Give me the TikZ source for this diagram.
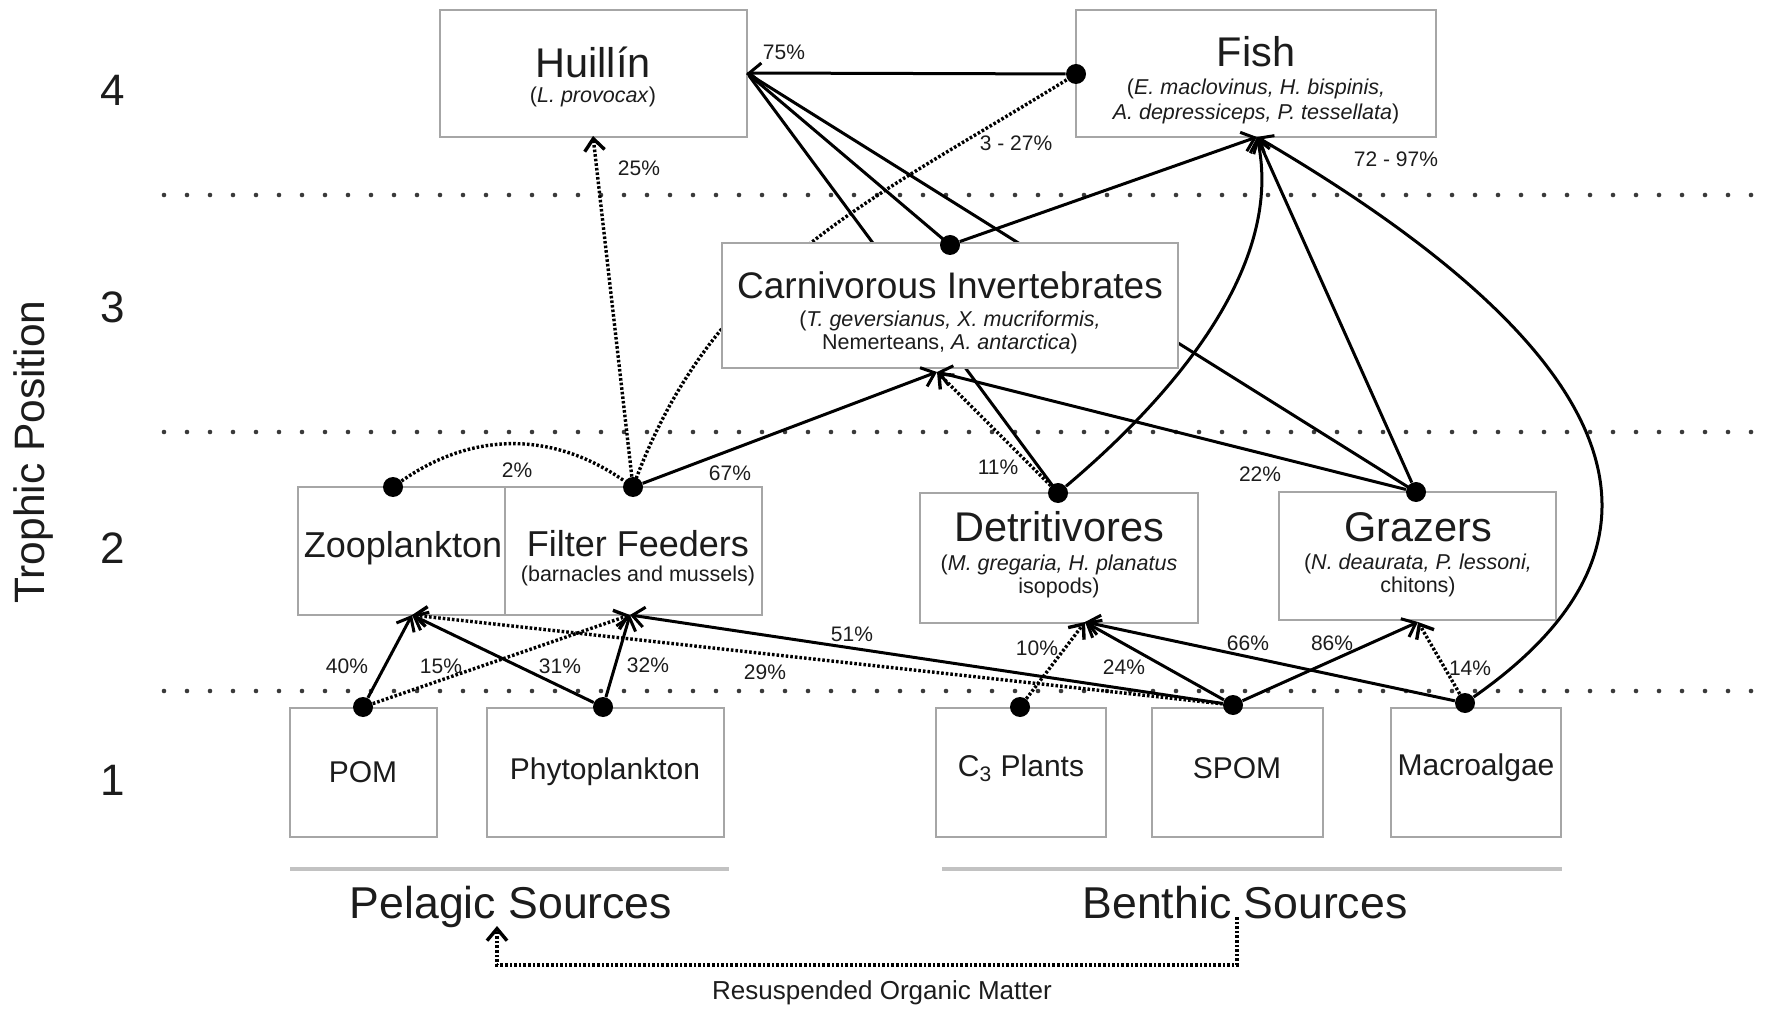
\documentclass[tikz,border=0pt]{standalone}
\usepackage{fontspec}
\setmainfont{Liberation Sans}
\usetikzlibrary{arrows.meta}
\definecolor{boxgray}{HTML}{A6A6A6}
\definecolor{ink}{HTML}{1C1C1C}
\definecolor{sepink}{HTML}{3A3A3A}
\definecolor{rulegray}{HTML}{C2C2C2}
\newcommand\fsz[2]{\fontsize{#1}{#2}\selectfont}
\pgfdeclarelayer{bg}
\pgfsetlayers{bg,main}
\tikzset{
  box/.style={draw=boxgray,line width=1pt,fill=white,inner sep=0pt,rectangle},
  blob/.style={circle,fill=black,inner sep=0pt,minimum size=10pt},
  sepline/.style={draw=sepink,line width=2.3pt,line cap=round,dash pattern=on 0pt off 11.5pt},
  feed/.style={draw=black,line width=1.5pt,-{Straight Barb[length=6pt,width=10pt]}},
  plainfeed/.style={draw=black,line width=1.5pt},
  dfeed/.style={feed,line width=1.7pt,dash pattern=on 1.3pt off 1.0pt},
  pct/.style={text=ink,inner sep=0pt,font=\fsz{10.5pt}{12pt}},
  ttl/.style={text=ink,inner sep=0pt,font=\fsz{20.75pt}{24pt}},
  midttl/.style={text=ink,inner sep=0pt,font=\fsz{18.5pt}{22pt}},
  subttl/.style={text=ink,inner sep=0pt,align=center,font=\fsz{10.75pt}{11.5pt}},
  src/.style={text=ink,inner sep=0pt,font=\fsz{15pt}{18pt}},
  axnum/.style={text=ink,inner sep=0pt,font=\fsz{22pt}{24pt}},
  bigsrc/.style={text=ink,inner sep=0pt,anchor=base,font=\fsz{22.3pt}{26pt}},
  rule/.style={draw=rulegray,line width=2pt}
}
\begin{document}
\begin{tikzpicture}[x=0.5pt,y=0.5pt]
\useasboundingbox (0,0) rectangle (1772,-1010);

% ---- boxes ----
\node[box,minimum width=153.5pt,minimum height=63.5pt] (huil) at (593.5,-73.5) {};
\node[box,minimum width=180pt,minimum height=63.5pt] (fish) at (1256,-73.5) {};
\node[box,minimum width=228pt,minimum height=62.5pt] (carn) at (950,-305.5) {};
\node[box,minimum width=103.5pt,minimum height=64pt] (zoo) at (401.5,-551) {};
\node[box,minimum width=128.5pt,minimum height=64pt] (ff) at (633.5,-551) {};
\node[box,minimum width=139pt,minimum height=65pt] (det) at (1059,-558) {};
\node[box,minimum width=138.5pt,minimum height=64pt] (graz) at (1417.5,-556) {};
\node[box,minimum width=73.5pt,minimum height=64.5pt] (pom) at (363.5,-772.5) {};
\node[box,minimum width=118.5pt,minimum height=64.5pt] (phyto) at (605.5,-772.5) {};
\node[box,minimum width=85pt,minimum height=64.5pt] (cthree) at (1021,-772.5) {};
\node[box,minimum width=85.5pt,minimum height=64.5pt] (spom) at (1237.5,-772.5) {};
\node[box,minimum width=85pt,minimum height=64.5pt] (macro) at (1476,-772.5) {};

% ---- arrow tip points ----
\coordinate (huilR) at (747,-73);
\coordinate (huilS) at (593,-136);
\coordinate (fishS) at (1257,-137);
\coordinate (carnS) at (937,-372);
\coordinate (zooS) at (412,-615);
\coordinate (ffS) at (630,-615);
\coordinate (detS) at (1085,-622);
\coordinate (grazS) at (1418,-622);

% ---- dots ----
\node[blob] (fishdot) at (1076,-74) {};
\node[blob] (carndot) at (950,-245) {};
\node[blob] (zoodot) at (393,-487) {};
\node[blob] (ffdot) at (633,-487) {};
\node[blob] (detdot) at (1058,-493) {};
\node[blob] (grazdot) at (1416,-492) {};
\node[blob] (pomdot) at (363,-707) {};
\node[blob] (phytodot) at (603,-707) {};
\node[blob] (cthreedot) at (1020,-707) {};
\node[blob] (spomdot) at (1233,-705) {};
\node[blob] (macrodot) at (1465,-703) {};

% ---- background: separators and hidden links ----
\begin{pgfonlayer}{bg}
\draw[sepline] (164,-195) -- (1772,-195);
\draw[sepline] (164,-432) -- (1772,-432);
\draw[sepline] (164,-691) -- (1772,-691);
\draw[plainfeed] (detdot.center) -- (huilR);
\draw[plainfeed] (grazdot.center) -- (huilR);
\draw[dfeed,-] (ffdot.center) to[out=70,in=212] (fishdot.center);
\end{pgfonlayer}

% ---- connectors ----
\draw[feed] (fishdot) -- (huilR);
\draw[plainfeed] (carndot.center) -- (huilR);
\draw[feed] (carndot) -- (fishS);
\draw[feed] (detdot) .. controls (1180,-390) and (1284,-262) .. (fishS);
\draw[feed] (grazdot) -- (fishS);
\draw[feed] (macrodot) .. controls (1670,-560) and (1672,-380) .. (fishS);
\draw[dfeed] (ffdot) -- (huilS);
\draw[feed] (ffdot) -- (carnS);
\draw[dfeed] (detdot) -- (carnS);
\draw[feed] (grazdot) -- (carnS);
\draw[dfeed,-] (zoodot) to[out=35,in=145] (ffdot);

\draw[feed] (pomdot) -- (zooS);
\draw[dfeed] (pomdot) -- (ffS);
\draw[feed] (phytodot) -- (zooS);
\draw[feed] (phytodot) -- (ffS);
\draw[dfeed] (spomdot) -- (zooS);
\draw[feed] (spomdot) -- (ffS);
\draw[dfeed] (cthreedot) -- (detS);
\draw[feed] (spomdot) -- (detS);
\draw[feed] (macrodot) -- (detS);
\draw[feed] (spomdot) -- (grazS);
\draw[dfeed] (macrodot) -- (grazS);

% ---- box texts ----
\node[ttl] (huilT) at (593,-62) {Huillín};
\node[subttl] (huilSub) at (593,-97) {(\textit{L. provocax})};
\node[ttl] (fishT) at (1256,-52) {Fish};
\node[subttl,font=\fsz{10.75pt}{12.5pt}] (fishSub) at (1256,-101) {(\textit{E. maclovinus, H. bispinis,}\\\textit{A. depressiceps, P. tessellata})};
\node[midttl] (carnT) at (950,-285) {Carnivorous Invertebrates};
\node[subttl] (carnSub) at (950,-332) {(\textit{T. geversianus, X. mucriformis,}\\Nemerteans, \textit{A. antarctica})};
\node[midttl,font=\fsz{18pt}{22pt}] (zooT) at (403,-548) {Zooplankton};
\node[midttl,font=\fsz{18pt}{22pt}] (ffT) at (638,-544) {Filter Feeders};
\node[subttl] (ffSub) at (638,-576) {(barnacles and mussels)};
\node[ttl] (detT) at (1059,-527) {Detritivores};
\node[subttl] (detSub) at (1059,-576) {(\textit{M. gregaria, H. planatus}\\isopods)};
\node[ttl] (grazT) at (1418,-527) {Grazers};
\node[subttl] (grazSub) at (1418,-575) {(\textit{N. deaurata, P. lessoni,}\\chitons)};
\node[src] (pomT) at (363,-772) {POM};
\node[src] (phytoT) at (605,-772) {Phytoplankton};
\node[src] (cthreeT) at (1021,-768) {C\textsubscript{3} Plants};
\node[src] (spomT) at (1237,-768) {SPOM};
\node[src] (macroT) at (1476,-768) {Macroalgae};

% ---- percentages ----
\node[pct] (p75) at (784,-52) {75\%};
\node[pct] (p25) at (639,-168) {25\%};
\node[pct] (p327) at (1016,-143) {3 - 27\%};
\node[pct] (p7297) at (1396,-159) {72 - 97\%};
\node[pct] (p2) at (517,-470) {2\%};
\node[pct] (p67) at (730,-473) {67\%};
\node[pct] (p11) at (998,-467) {11\%};
\node[pct] (p22) at (1260,-474) {22\%};
\node[pct] (p40) at (347,-666) {40\%};
\node[pct] (p15) at (441,-666) {15\%};
\node[pct] (p31) at (560,-666) {31\%};
\node[pct] (p32) at (648,-665) {32\%};
\node[pct] (p29) at (765,-672) {29\%};
\node[pct] (p51) at (852,-634) {51\%};
\node[pct] (p10) at (1037,-648) {10\%};
\node[pct] (p24) at (1124,-667) {24\%};
\node[pct] (p66) at (1248,-643) {66\%};
\node[pct] (p86) at (1332,-643) {86\%};
\node[pct] (p14) at (1470,-668) {14\%};

% ---- axis ----
\node[axnum] (ax4) at (113,-90) {4};
\node[axnum] (ax3) at (113,-307) {3};
\node[axnum] (ax2) at (113,-548) {2};
\node[axnum] (ax1) at (113,-780) {1};
\node[text=ink,inner sep=0pt,rotate=90,font=\fsz{21.25pt}{24pt}] (tpos) at (34,-452) {Trophic Position};

% ---- sources ----
\draw[rule] (290,-869) -- (729,-869);
\draw[rule] (942,-869) -- (1562,-869);
\node[bigsrc] (pelag) at (511,-918) {Pelagic Sources};
\node[bigsrc] (benth) at (1245,-918) {Benthic Sources};
\coordinate (rsA) at (1237,-917);
\coordinate (rsB) at (1237,-965);
\coordinate (rsC) at (497,-965);
\coordinate (rsD) at (497,-926);
\draw[dfeed] (rsA) -- (rsB) -- (rsC) -- (rsD);
\node[text=ink,inner sep=0pt,font=\fsz{13pt}{15pt}] (resus) at (882,-993) {Resuspended Organic Matter};
\end{tikzpicture}
\end{document}
